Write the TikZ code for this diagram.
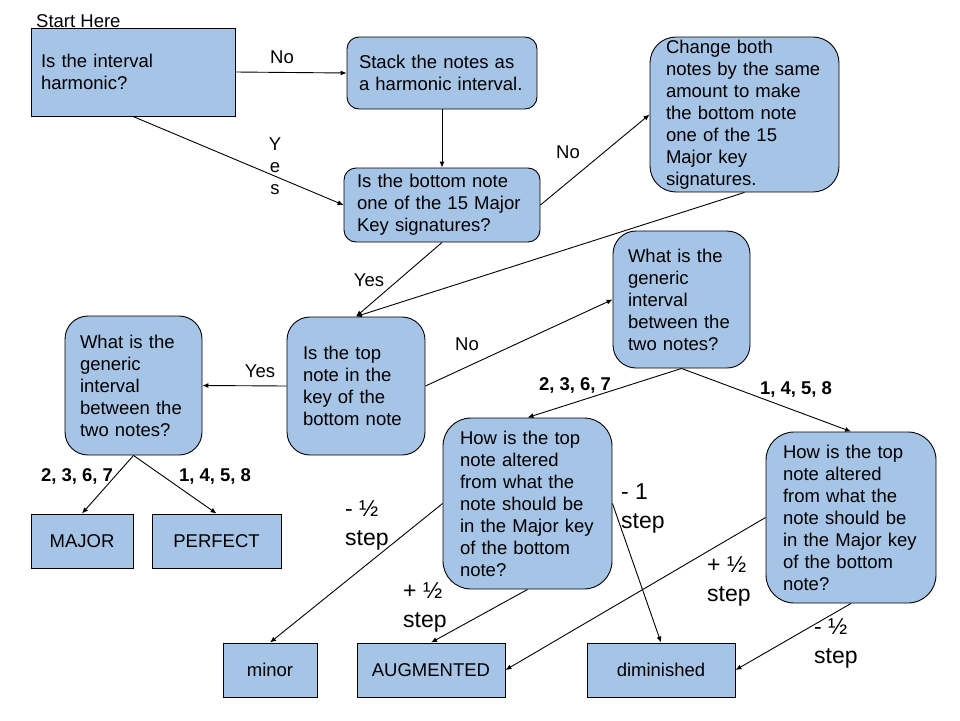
\documentclass[tikz,border=0pt]{standalone}
\usepackage{fontspec}
\setmainfont{Liberation Sans}
\usetikzlibrary{arrows.meta}
\definecolor{boxblue}{RGB}{166,196,230}
\newcommand\qfont{\fontsize{18.5}{22}\selectfont}
\newcommand\stepfont{\fontsize{23}{29}\selectfont}
\tikzset{
  qbox/.style={draw=black, fill=boxblue, line width=0.9pt, align=left, inner ysep=0pt, font=\qfont},
  abox/.style={draw=black, fill=boxblue, line width=0.9pt, minimum height=54pt, inner sep=0pt, font=\qfont},
  arr/.style={-{Latex[length=6pt,width=5pt]}, line width=0.9pt},
  lab/.style={font=\qfont, inner sep=0pt},
  numlab/.style={font=\qfont\bfseries, inner sep=0pt},
  steplab/.style={font=\stepfont, align=left, anchor=west, inner sep=0pt}
}

\begin{document}
\begin{tikzpicture}[x=1pt,y=-1pt]
\useasboundingbox (0,0) rectangle (960,720);
% questions
\node[lab, anchor=west] (starthere) at (36,21) {Start Here};
\node[qbox, text width=184pt, inner xsep=10pt, minimum height=88pt] (start) at (133,72) {Is the interval\\harmonic?};
\node[qbox, rounded corners=12pt, text width=166pt, inner xsep=12pt, minimum height=72pt] (stack) at (442,73) {Stack the notes as\\a harmonic interval.};
\node[qbox, rounded corners=12pt, text width=170pt, inner xsep=13pt, minimum height=74pt] (keysig) at (442,205) {Is the bottom note\\one of the 15 Major\\Key signatures?};
\node[qbox, rounded corners=26pt, text width=157pt, inner xsep=16pt, minimum height=155pt] (change) at (744.5,114.5) {Change both\\notes by the same\\amount to make\\the bottom note\\one of the 15\\Major key\\signatures.};
\node[qbox, rounded corners=23pt, text width=106pt, inner xsep=16pt, minimum height=138pt] (topnote) at (356,386) {Is the top\\note in the\\key of the\\bottom note};
\node[qbox, rounded corners=23pt, text width=107pt, inner xsep=15pt, minimum height=139pt] (genL) at (133.5,385.5) {What is the\\generic\\interval\\between the\\two notes?};
\node[qbox, rounded corners=23pt, text width=107pt, inner xsep=15pt, minimum height=137pt] (genR) at (681.5,299.5) {What is the\\generic\\interval\\between the\\two notes?};
\node[qbox, rounded corners=28pt, text width=135pt, inner xsep=17pt, minimum height=171pt] (howL) at (527.5,503.5) {How is the top\\note altered\\from what the\\note should be\\in the Major key\\of the bottom\\note?};
\node[qbox, rounded corners=28pt, text width=136pt, inner xsep=17pt, minimum height=171pt] (howR) at (851,517.5) {How is the top\\note altered\\from what the\\note should be\\in the Major key\\of the bottom\\note?};
% answers
\node[abox, minimum width=102pt] (major) at (82,541) {MAJOR};
\node[abox, minimum width=129pt] (perfect) at (216.5,541) {PERFECT};
\node[abox, minimum width=94pt] (minor) at (270,670) {minor};
\node[abox, minimum width=148pt] (augmented) at (431,670) {AUGMENTED};
\node[abox, minimum width=148pt] (diminished) at (661,670) {diminished};
% labels
\node[lab] (noA) at (282,57) {No};
\node[lab, align=center] (yesA) at (275,166) {Y\\e\\s};
\node[lab] (noB) at (568,152) {No};
\node[lab] (yesB) at (369,280) {Yes};
\node[lab] (noC) at (467,344) {No};
\node[lab] (yesC) at (260,371) {Yes};
\node[numlab] (intL1) at (77,476) {2, 3, 6, 7};
\node[numlab] (intL2) at (215,476) {1, 4, 5, 8};
\node[numlab] (intR1) at (575,385) {2, 3, 6, 7};
\node[numlab] (intR2) at (796,389) {1, 4, 5, 8};
\node[steplab] (stepA) at (345,525.5) {- ½\\step};
\node[steplab] (stepB) at (403,607.5) {+ ½\\step};
\node[steplab] (stepC) at (621,508) {- 1\\step};
\node[steplab] (stepD) at (707,581.5) {+ ½\\step};
\node[steplab] (stepE) at (814,643) {- ½\\step};
% connectors
\draw[arr] (start.east) -- (stack.west);
\draw[arr] (start.south) -- (keysig.west);
\draw[arr] (stack.south) -- (keysig.north);
\draw[arr] (keysig.east) -- (change.west);
\draw[arr] (keysig.south) -- (topnote.north);
\draw[arr] (change.south) -- (topnote.north);
\draw[arr] (topnote.east) -- (genR.west);
\draw[arr] (topnote.west) -- (genL.east);
\draw[arr] (genL.south) -- (major.north);
\draw[arr] (genL.south) -- (perfect.north);
\draw[arr] (genR.south) -- (howL.north);
\draw[arr] (genR.south) -- (howR.north);
\draw[arr] (howL.west) -- (minor.north);
\draw[arr] (howL.south) -- (augmented.north);
\draw[arr] (howL.east) -- (diminished.north);
\draw[arr] (howR.west) -- (augmented.east);
\draw[arr] (howR.south) -- (diminished.east);
\end{tikzpicture}
\end{document}
